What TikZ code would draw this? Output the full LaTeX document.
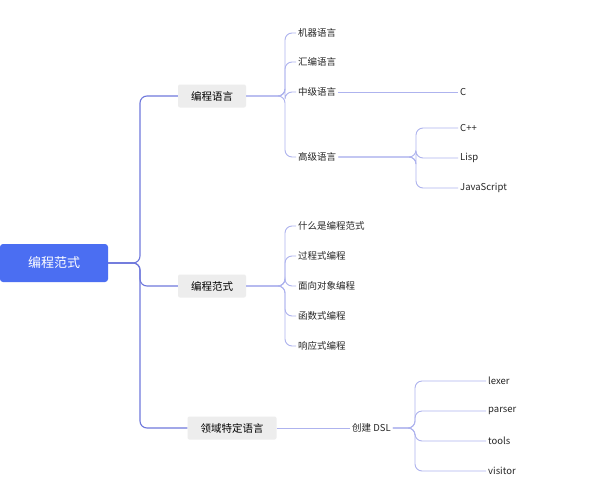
\documentclass[tikz,border=0pt]{standalone}
\usepackage{fontspec}
\setmainfont{Noto Sans CJK SC}
\begin{document}
\begin{tikzpicture}[x=1pt,y=-1pt,
  root/.style={fill=rootblue,text=white,rounded corners=3,minimum width=108pt,minimum height=38pt,font=\fontsize{13}{15}\selectfont},
  mid/.style={fill=boxgray,rounded corners=2,minimum height=23pt,inner xsep=13pt,font=\fontsize{10.5}{12}\selectfont},
  leaf/.style={anchor=west,inner sep=2pt,font=\fontsize{9.5}{11}\selectfont,text=black!85},
  mainln/.style={draw=lineblue,line width=1.1pt,rounded corners=7},
  subln/.style={draw=lightline,line width=0.9pt,rounded corners=7}]
\definecolor{rootblue}{HTML}{4B6EF2}
\definecolor{boxgray}{HTML}{EDEDED}
\definecolor{lineblue}{HTML}{6F78DC}
\definecolor{lightline}{HTML}{AEB3EE}
\useasboundingbox (0,0) rectangle (601,495);
\fill[white] (0,0) rectangle (601,495);
\node[root] (r) at (54,263) {编程范式};
\node[mid] (a) at (212,96) {编程语言};
\node[mid] (b) at (212,286) {编程范式};
\node[mid] (c) at (232,428) {领域特定语言};
\foreach \n in {a,b,c} \draw[mainln] (r.east) -- (140,263) |- (\n.west);
% a children
\node[leaf] (a1) at (296,33) {机器语言};
\node[leaf] (a2) at (296,62) {汇编语言};
\node[leaf] (a3) at (296,92) {中级语言};
\node[leaf] (a4) at (296,157) {高级语言};
\foreach \n in {a1,a2,a3,a4} \draw[subln] (a.east) -- (285,96) |- (\n.west);
\node[leaf] (c1) at (458,92) {C};
\draw[subln] (a3.east) -- (c1.west);
\node[leaf] (h1) at (458,128) {C++};
\node[leaf] (h2) at (458,158) {Lisp};
\node[leaf] (h3) at (458,188) {JavaScript};
\foreach \n in {h1,h2,h3} \draw[subln] (a4.east) -- (416,157) |- (\n.west);
% b children
\node[leaf] (b1) at (296,226) {什么是编程范式};
\node[leaf] (b2) at (296,256) {过程式编程};
\node[leaf] (b3) at (296,286) {面向对象编程};
\node[leaf] (b4) at (296,316) {函数式编程};
\node[leaf] (b5) at (296,346) {响应式编程};
\foreach \n in {b1,b2,b3,b4,b5} \draw[subln] (b.east) -- (285,286) |- (\n.west);
% c children
\node[leaf] (d) at (350,428) {创建 DSL};
\draw[subln] (c.east) -- (d.west);
\node[leaf] (d1) at (486,381) {lexer};
\node[leaf] (d2) at (486,411) {parser};
\node[leaf] (d3) at (486,441) {tools};
\node[leaf] (d4) at (486,471) {visitor};
\foreach \n in {d1,d2,d3,d4} \draw[subln] (d.east) -- (415,428) |- (\n.west);
\end{tikzpicture}
\end{document}
